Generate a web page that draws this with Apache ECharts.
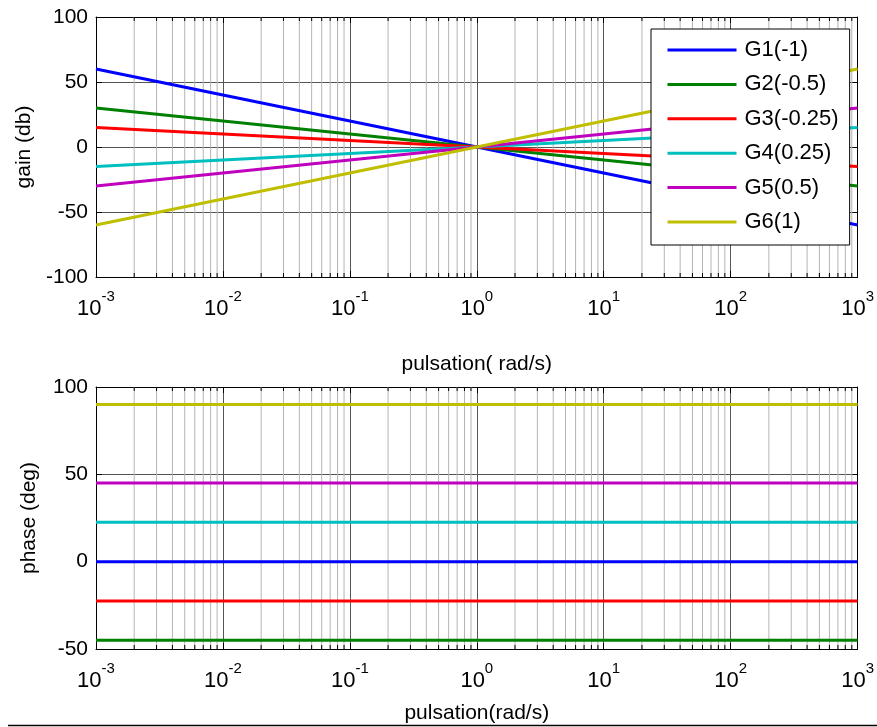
<!DOCTYPE html>
<html>
<head>
<meta charset="utf-8">
<script src="https://cdn.jsdelivr.net/npm/echarts@6/dist/echarts.min.js"></script>
<style>
  html, body { margin: 0; padding: 0; background: #fff; }
  #main { width: 877px; height: 727px; }
</style>
</head>
<body>
<div id="main"></div>
<script>
// frequency points (rad/s), one per decade
var freq = [0.001, 0.01, 0.1, 1, 10, 100, 1000];
// gain in dB
var gainG1 = [60, 40, 20, 0, -20, -40, -60];
var gainG2 = [30, 20, 10, 0, -10, -20, -30];
var gainG3 = [15, 10, 5, 0, -5, -10, -15];
var gainG4 = [-15, -10, -5, 0, 5, 10, 15];
var gainG5 = [-30, -20, -10, 0, 10, 20, 30];
var gainG6 = [-60, -40, -20, 0, 20, 40, 60];
// phase in degrees, flat over the whole range
var phaseFreq = [0.001, 1000];
var phaseG1 = [0, 0];
var phaseG2 = [-45, -45];
var phaseG3 = [-22.5, -22.5];
var phaseG4 = [22.5, 22.5];
var phaseG5 = [45, 45];
var phaseG6 = [90, 90];

var names = ['G1(-1)', 'G2(-0.5)', 'G3(-0.25)', 'G4(0.25)', 'G5(0.5)', 'G6(1)'];
var colors = ['#0000ff', '#008000', '#ff0000', '#00bfbf', '#bf00bf', '#bfbf00'];
var decades = [0.001, 0.01, 0.1, 1, 10, 100];
var minorSteps = [2, 3, 4, 5, 6, 7, 8, 9];

var minorTicks = [];
decades.forEach(function (d) {
  minorSteps.forEach(function (m) { minorTicks.push([d * m]); });
});

var font = 'Liberation Sans, Arial, sans-serif';

function pairs(xs, ys) {
  return xs.map(function (x, i) { return [x, ys[i]]; });
}

function xAxisFor(gridIndex, nameText, nameGap) {
  return {
    type: 'log',
    logBase: 10,
    gridIndex: gridIndex,
    min: 0.001,
    max: 1000,
    splitNumber: 6,
    name: nameText,
    nameLocation: 'middle',
    nameGap: nameGap,
    nameTextStyle: { color: '#000', fontSize: 21, fontFamily: font },
    axisLine: { show: true, onZero: false, lineStyle: { color: '#000', width: 1 } },
    axisTick: { show: true, inside: true, length: 6, lineStyle: { color: '#000' } },
    splitLine: { show: true, lineStyle: { color: '#555', width: 1 } },
    axisLabel: {
      margin: 12,
      color: '#000',
      fontFamily: font,
      formatter: function (v) {
        return '{b|10}{e|' + Math.round(Math.log10(v)) + '}';
      },
      rich: {
        b: { fontSize: 22, lineHeight: 40, fontFamily: font, color: '#000' },
        e: { fontSize: 15, lineHeight: 15, verticalAlign: 'top', fontFamily: font, color: '#000' }
      }
    }
  };
}

function topAxisFor(gridIndex) {
  return {
    type: 'log', logBase: 10, gridIndex: gridIndex, min: 0.001, max: 1000, splitNumber: 6,
    position: 'top',
    axisLine: { show: true, onZero: false, lineStyle: { color: '#000' } },
    axisTick: { show: true, inside: true, length: 6, lineStyle: { color: '#000' } },
    axisLabel: { show: false },
    splitLine: { show: false }
  };
}

function yAxisFor(gridIndex, min, max, nameText) {
  return {
    type: 'value',
    gridIndex: gridIndex,
    min: min,
    max: max,
    interval: 50,
    name: nameText,
    nameLocation: 'middle',
    nameGap: 56,
    nameTextStyle: { color: '#000', fontSize: 21, fontFamily: font },
    axisLine: { show: true, onZero: false, lineStyle: { color: '#000' } },
    axisTick: { show: true, inside: true, length: 6, lineStyle: { color: '#000' } },
    splitLine: { show: true, lineStyle: { color: '#555', width: 1 } },
    axisLabel: { color: '#000', fontSize: 21, fontFamily: font, margin: 8 }
  };
}

function rightAxisFor(gridIndex, min, max) {
  return {
    type: 'value', gridIndex: gridIndex, min: min, max: max, interval: 50,
    position: 'right',
    axisLine: { show: true, onZero: false, lineStyle: { color: '#000' } },
    axisTick: { show: true, inside: true, length: 6, lineStyle: { color: '#000' } },
    axisLabel: { show: false },
    splitLine: { show: false }
  };
}

// minor log grid lines with small ticks at the top and bottom edges
function minorSeries(xi, yi) {
  return {
    type: 'custom',
    xAxisIndex: xi,
    yAxisIndex: yi,
    silent: true,
    z: 1,
    data: minorTicks,
    renderItem: function (params, api) {
      var v = api.value(0);
      var bottom = api.coord([v, yi === 0 ? -100 : -50]);
      var top = api.coord([v, 100]);
      return {
        type: 'group',
        children: [
          { type: 'line', shape: { x1: bottom[0], y1: bottom[1], x2: top[0], y2: top[1] },
            style: { stroke: '#b4b4b4', lineWidth: 1 } },
          { type: 'line', shape: { x1: bottom[0], y1: bottom[1], x2: bottom[0], y2: bottom[1] - 4 },
            style: { stroke: '#000', lineWidth: 1 } },
          { type: 'line', shape: { x1: top[0], y1: top[1], x2: top[0], y2: top[1] + 4 },
            style: { stroke: '#000', lineWidth: 1 } }
        ]
      };
    }
  };
}

function lineSeries(name, color, xi, yi, data) {
  return {
    name: name,
    type: 'line',
    xAxisIndex: xi,
    yAxisIndex: yi,
    data: data,
    symbol: 'none',
    z: 3,
    color: color,
    lineStyle: { color: color, width: 3 },
    animation: false
  };
}

var gains = [gainG1, gainG2, gainG3, gainG4, gainG5, gainG6];
var phases = [phaseG1, phaseG2, phaseG3, phaseG4, phaseG5, phaseG6];

var series = [minorSeries(0, 0), minorSeries(2, 2)];
gains.forEach(function (g, i) { series.push(lineSeries(names[i], colors[i], 0, 0, pairs(freq, g))); });
phases.forEach(function (p, i) { series.push(lineSeries(names[i], colors[i], 2, 2, pairs(phaseFreq, p))); });

var chart = echarts.init(document.getElementById('main'), null, { renderer: 'canvas' });
chart.setOption({
  animation: false,
  backgroundColor: '#fff',
  grid: [
    { left: 96, top: 17, width: 763, height: 260 },
    { left: 96, top: 387, width: 763, height: 262 }
  ],
  xAxis: [
    xAxisFor(0, 'pulsation( rad/s)', 77),
    topAxisFor(0),
    xAxisFor(1, 'pulsation(rad/s)', 54),
    topAxisFor(1)
  ],
  yAxis: [
    yAxisFor(0, -100, 100, 'gain (db)'),
    rightAxisFor(0, -100, 100),
    yAxisFor(1, -50, 100, 'phase (deg)'),
    rightAxisFor(1, -50, 100)
  ],
  legend: {
    data: names,
    orient: 'vertical',
    left: 651,
    top: 29,
    itemWidth: 69,
    itemHeight: 20,
    itemGap: 12.4,
    padding: [10, 11, 12, 15],
    backgroundColor: '#fff',
    borderColor: '#000',
    borderWidth: 1,
    borderRadius: 0,
    selectedMode: false,
    itemStyle: { opacity: 0 },
    lineStyle: { width: 3 },
    textStyle: { color: '#000', fontSize: 22, fontFamily: font, lineHeight: 20, padding: [0, 0, 0, 3] }
  },
  graphic: [
    { type: 'line', shape: { x1: 8, y1: 725.5, x2: 877, y2: 725.5 }, style: { stroke: '#000', lineWidth: 1.5 } }
  ],
  series: series
});
</script>
</body>
</html>
